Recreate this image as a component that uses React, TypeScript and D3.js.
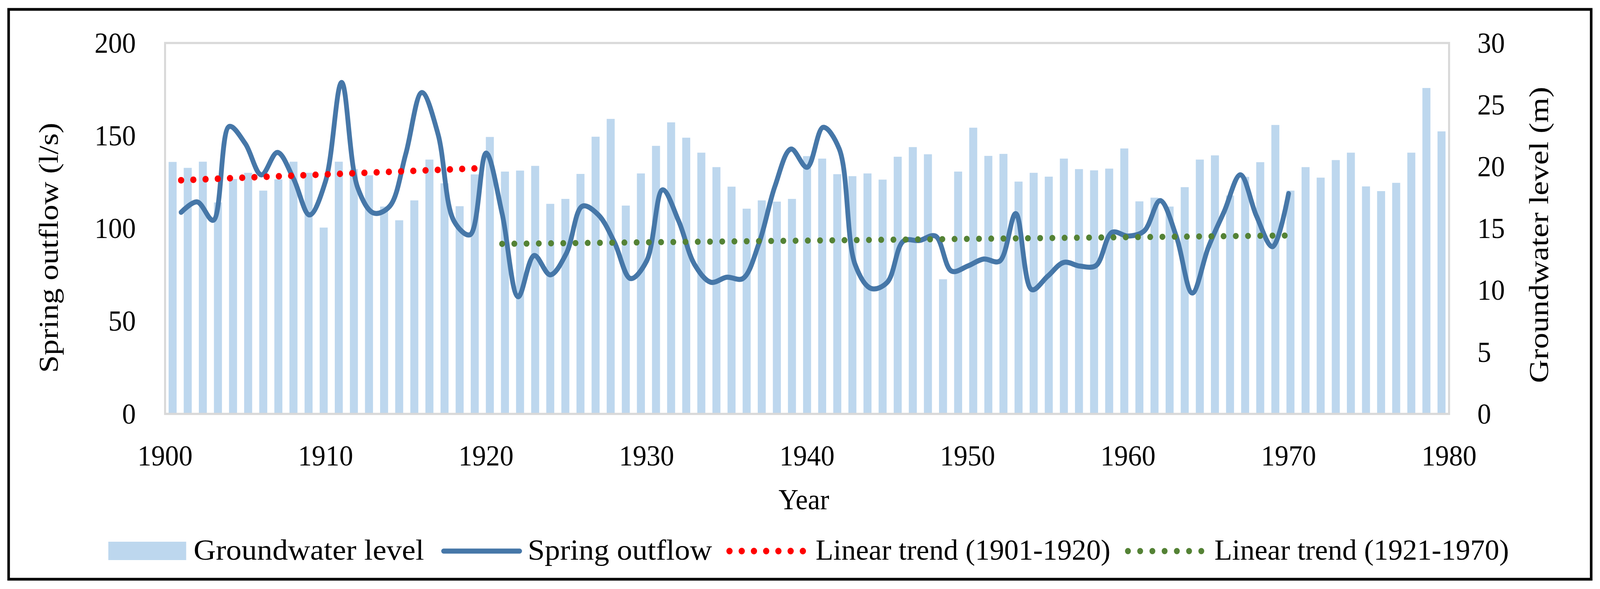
import React from 'react';
import * as d3 from 'd3';

// Groundwater level (m), one bar per category (85 bars across the plot)
const groundwaterLevel: number[] = [
  20.38, 19.9, 20.4, 17.1, 19.0, 19.5, 18.06, 18.97, 20.4, 19.5, 15.07, 20.4, 19.8, 19.3, 16.77, 15.66, 17.27, 20.57, 18.65, 16.8,
  19.37, 22.4, 19.6, 19.68, 20.06, 16.99, 17.39, 19.41, 22.42, 23.86, 16.85, 19.45, 21.68, 23.58, 22.34, 21.13, 19.96, 18.38, 16.6, 17.27,
  17.17, 17.39, 20.85, 20.65, 19.39, 19.23, 19.45, 18.95, 20.8, 21.58, 21.0, 10.89, 19.6, 23.15, 20.87, 21.03, 18.79, 19.5, 19.19, 20.65,
  19.8, 19.7, 19.84, 21.47, 17.19, 17.49, 16.77, 18.34, 20.57, 20.91, 17.66, 19.17, 20.36, 23.37, 18.06, 19.96, 19.11, 20.53, 21.13, 18.4,
  18.02, 18.69, 21.13, 26.36, 22.85,
];

// Spring outflow (l/s), 1901-1970
const outflowYears: number[] = [
  1901, 1902, 1903, 1904, 1905, 1906, 1907, 1908, 1909, 1910, 1911, 1912, 1913, 1914, 1915, 1916, 1917, 1918, 1919, 1920,
  1921, 1922, 1923, 1924, 1925, 1926, 1927, 1928, 1929, 1930, 1931, 1932, 1933, 1934, 1935, 1936, 1937, 1938, 1939, 1940,
  1941, 1942, 1943, 1944, 1945, 1946, 1947, 1948, 1949, 1950, 1951, 1952, 1953, 1954, 1955, 1956, 1957, 1958, 1959, 1960,
  1961, 1962, 1963, 1964, 1965, 1966, 1967, 1968, 1969, 1970,
];
const springOutflow: number[] = [
  108.7, 114.3, 104.4, 155, 145.7, 128.9, 141, 126.9, 107.3, 125.5, 178.7, 122, 108.3, 112, 140.3, 173.3, 151.1, 104, 96.6, 140.6,
  108, 63.2, 85.4, 75, 86.5, 112, 107.3, 92.5, 73, 82.4, 120.8, 104, 80.4, 71, 73.7, 73, 91.9, 122.8, 142.8, 133,
  154.5, 143, 80.4, 67.6, 71, 93.2, 93.5, 95.9, 77, 79.7, 83.5, 82.4, 108, 67, 74.3, 81.7, 79.7, 80, 97.9, 95.9,
  98.6, 115, 95.9, 65.2, 89.8, 109.4, 128.9, 106.7, 90.2, 118.8,
];

// Linear trends (end points, l/s)
const trend1901Years: number[] = [1901, 1920];
const trend1901Values: number[] = [126, 132.6];
const trend1921Years: number[] = [1921, 1970];
const trend1921Values: number[] = [91.7, 96.2];

const xTicks: number[] = [1900, 1910, 1920, 1930, 1940, 1950, 1960, 1970, 1980];
const leftTicks: number[] = [0, 50, 100, 150, 200];
const rightTicks: number[] = [0, 5, 10, 15, 20, 25, 30];

const W = 4357;
const H = 1507;
const P = { left: 449.5, right: 3946, top: 110, bottom: 1059 };
const FONT = "'Liberation Serif', 'Times New Roman', serif";
const FS = 75;

const BAR_COLOR = '#BDD7EE';
const LINE_COLOR = '#4677A8';
const RED = '#FF0000';
const GREEN = '#548235';

export default function App() {
  const x = d3.scaleLinear().domain([1900, 1980]).range([P.left, P.right]);
  const yL = d3.scaleLinear().domain([0, 200]).range([P.bottom, P.top]);
  const yR = d3.scaleLinear().domain([0, 30]).range([P.bottom, P.top]);
  const band = d3
    .scaleBand<number>()
    .domain(d3.range(groundwaterLevel.length))
    .range([P.left, P.right])
    .paddingInner(0.47)
    .paddingOuter(0.235);

  const pts: [number, number][] = outflowYears.map((yr, i) => [yr, springOutflow[i]]);
  const line = d3
    .line<[number, number]>()
    .x((d) => x(d[0]))
    .y((d) => yL(d[1]))
    .curve(d3.curveCatmullRom.alpha(0.5));
  const straight = d3
    .line<[number, number]>()
    .x((d) => x(d[0]))
    .y((d) => yL(d[1]));
  const t1: [number, number][] = trend1901Years.map((yr, i) => [yr, trend1901Values[i]]);
  const t2: [number, number][] = trend1921Years.map((yr, i) => [yr, trend1921Values[i]]);

  const legendY = 1432;
  const legendMid = 1410;
  const adj = 'spacingAndGlyphs';

  return (
    <svg
      width="100%"
      height="100%"
      viewBox={`0 0 ${W} ${H}`}
      preserveAspectRatio="none"
      style={{ position: 'fixed', left: 0, top: 0, width: '100%', height: '100%', display: 'block', background: '#fff' }}
      fontFamily={FONT}
    >
      <rect x={0} y={0} width={W} height={H} fill="#fff" />
      {/* outer frame */}
      <rect x={23.5} y={24} width={4333 - 23.5} height={1482 - 24} fill="none" stroke="#000" strokeWidth={7} />

      {/* bars */}
      <g>
        {groundwaterLevel.map((v, i) => (
          <rect
            key={i}
            x={band(i)!}
            y={yR(v)}
            width={band.bandwidth()}
            height={yR(0) - yR(v)}
            fill={BAR_COLOR}
          />
        ))}
      </g>

      {/* plot area border */}
      <rect
        x={P.left}
        y={P.top}
        width={P.right - P.left}
        height={P.bottom - P.top}
        fill="none"
        stroke="#D9D9D9"
        strokeWidth={5.5}
      />

      {/* spring outflow */}
      <path d={line(pts)!} fill="none" stroke={LINE_COLOR} strokeWidth={13} strokeLinecap="round" strokeLinejoin="round" />

      {/* trends */}
      <path d={straight(t1)!} fill="none" stroke={RED} strokeWidth={17} strokeLinecap="round" strokeDasharray="0 33.3" />
      <path d={straight(t2)!} fill="none" stroke={GREEN} strokeWidth={16} strokeLinecap="round" strokeDasharray="0 33.3" />

      {/* axis tick labels */}
      <g fontSize={FS} fill="#000">
        {leftTicks.map((t) => (
          <text key={t} x={370} y={yL(t)} dy="0.33em" textAnchor="end">
            {t}
          </text>
        ))}
        {rightTicks.map((t) => (
          <text key={t} x={4023} y={yR(t)} dy="0.33em" textAnchor="start">
            {t}
          </text>
        ))}
        {xTicks.map((t) => (
          <text key={t} x={x(t)} y={1191} textAnchor="middle">
            {t}
          </text>
        ))}
      </g>

      {/* axis titles */}
      <g fontSize={FS} fill="#000">
        <text transform={`translate(157,634) rotate(-90)`} textAnchor="middle" textLength={640} lengthAdjust={adj}>
          Spring outflow (l/s)
        </text>
        <text transform={`translate(4215,601) rotate(-90)`} textAnchor="middle" textLength={758} lengthAdjust={adj}>
          Groundwater level (m)
        </text>
        <text x={2189} y={1303} textAnchor="middle">
          Year
        </text>
      </g>

      {/* legend */}
      <g fontSize={FS} fill="#000">
        <rect x={295} y={1386} width={212} height={47} fill={BAR_COLOR} />
        <text x={527} y={legendY} textLength={628} lengthAdjust={adj}>
          Groundwater level
        </text>

        <line x1={1208} x2={1415} y1={legendMid} y2={legendMid} stroke={LINE_COLOR} strokeWidth={13} strokeLinecap="round" />
        <text x={1437} y={legendY} textLength={502} lengthAdjust={adj}>
          Spring outflow
        </text>

        <line x1={1986.5} x2={2186.5} y1={legendMid} y2={legendMid} stroke={RED} strokeWidth={17} strokeLinecap="round" strokeDasharray="0 33.3" />
        <text x={2221} y={legendY} textLength={803} lengthAdjust={adj}>
          Linear trend (1901-1920)
        </text>

        <line x1={3071.5} x2={3271.5} y1={legendMid} y2={legendMid} stroke={GREEN} strokeWidth={16} strokeLinecap="round" strokeDasharray="0 33.3" />
        <text x={3307} y={legendY} textLength={802} lengthAdjust={adj}>
          Linear trend (1921-1970)
        </text>
      </g>
    </svg>
  );
}
